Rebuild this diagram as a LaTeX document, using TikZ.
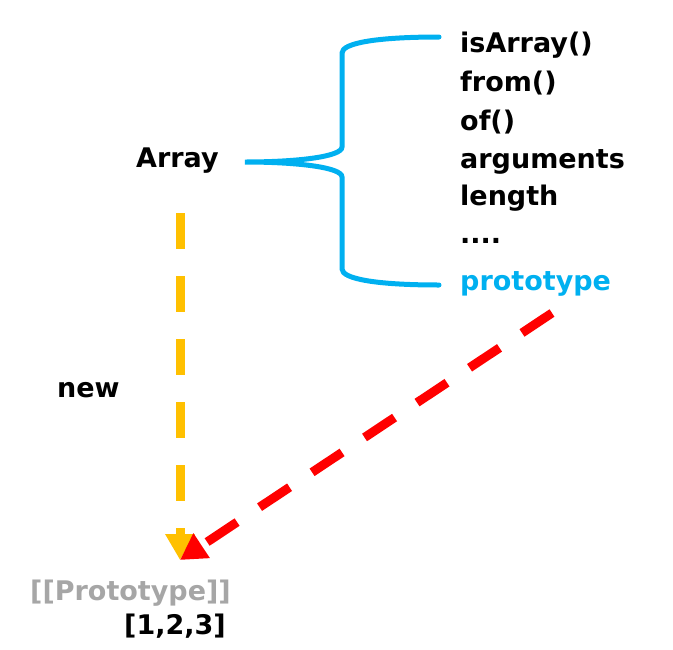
\documentclass[tikz,border=0pt]{standalone}
\usepackage{fontspec}
\setmainfont{DejaVu Sans}
\usepackage{xcolor}
\usetikzlibrary{arrows.meta, positioning}

\definecolor{jsblue}{HTML}{00B0F0}
\definecolor{jsyellow}{HTML}{FFC000}
\definecolor{jsred}{HTML}{FF0000}
\definecolor{jsgray}{HTML}{A6A6A6}

\begin{document}
\begin{tikzpicture}[
  x=1pt, y=-1pt,
  txt/.style   = {inner sep=0pt, anchor=base west,
                  font=\fontsize{27}{31}\selectfont\bfseries},
  brace/.style = {draw=jsblue, line width=5pt, line cap=round},
  darr/.style  = {line width=9pt, dash pattern=on 36pt off 27pt,
                  -{Triangle[length=26pt, width=28pt]}},
]
\useasboundingbox (0,0) rectangle (673,649);

% Array and its static members
\node[txt] (array) at (136,167) {Array};
\node[txt] (isarray) at (460,52)  {isArray()};
\node[txt, below=39pt of isarray.base west, anchor=base west] (from) {from()};
\node[txt, below=39pt of from.base west, anchor=base west] (of) {of()};
\node[txt, below=38pt of of.base west, anchor=base west] (arguments) {arguments};
\node[txt, below=37pt of arguments.base west, anchor=base west] (length) {length};
\node[txt, below=38pt of length.base west, anchor=base west] (dots) {....};
\node[txt, text=jsblue, below=47pt of dots.base west, anchor=base west] (prototype) {prototype};

% instance
\node[txt] (new) at (57,397) {new};
\node[txt, text=jsgray] (proto) at (30,600) {[[Prototype]]};
\node[txt] (inst) at (124,634) {[1,2,3]};

% brace
\coordinate (tip) at (245,162);
\coordinate (top) at (439,37);
\coordinate (bot) at (439,285);
\draw[brace] (top) .. controls +(-62,0) and +(0,-10) .. (342,53)
  -- (342,147) .. controls +(0,10) and +(50,0) .. (tip)
  .. controls +(50,0) and +(0,-10) .. (342,177)
  -- (342,269) .. controls +(0,10) and +(-62,0) .. (bot);

% Arrows
\coordinate (target) at (180,560);
\coordinate (redstart) at (552,313);
\draw[darr, jsyellow] (array.south -| target) ++(0,40) -- (target);
\draw[darr, jsred] (redstart) -- (target);
\end{tikzpicture}
\end{document}
